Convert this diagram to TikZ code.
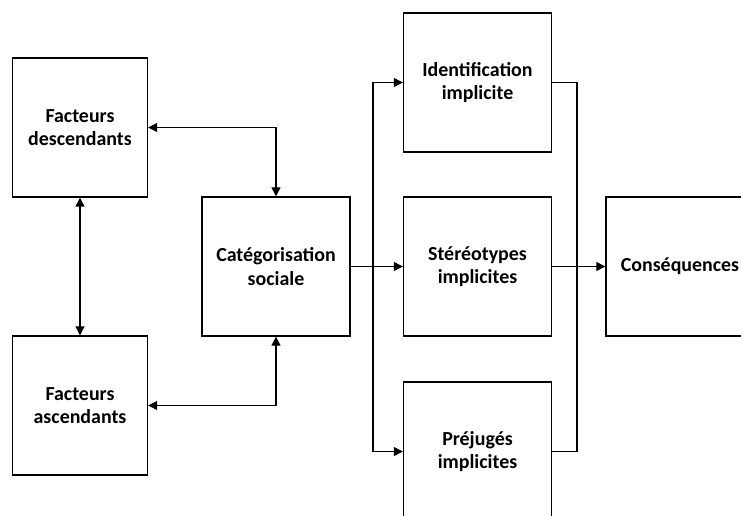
\documentclass[tikz,border=0pt]{standalone}
\usepackage{fontspec}
\setmainfont{Carlito}
\usetikzlibrary{arrows.meta}

\tikzstyle{bloc}=[shape=rectangle,draw=black,line width=1.4bp,minimum width=148bp,minimum height=139bp,align=center,font=\fontsize{20}{23.5}\selectfont\bfseries,inner sep=2bp]
\tikzstyle{fac}=[bloc,minimum width=135bp]

\begin{document}
\begin{tikzpicture}[x=1bp,y=-1bp,line width=1.2bp,>={Triangle[length=9bp,width=9bp]}]
        \clip (0,0) rectangle (741,516);
        \useasboundingbox (0,0) rectangle (741,516);
        % facteurs
        \node[fac] (fd) at (80,127.5) {Facteurs\\descendants};
        \node[fac] (fa) at (80,405.5) {Facteurs\\ascendants};
        % categorisation
        \node[bloc] (cs) at (276,266.5) {Catégorisation\\sociale};
        % implicite
        \node[bloc] (id) at (477.5,82.5) {Identification\\implicite};
        \node[bloc] (st) at (477.5,266.5) {Stéréotypes\\implicites};
        \node[bloc] (pr) at (477.5,451.5) {Préjugés\\implicites};
        \node[bloc] (co) at (680,266.5) {Conséquences};
        \coordinate (split) at (373,266.5);
        \coordinate (merge) at (577,266.5);
        % liens
        \draw [<->] (fd) -- (fa);
        \draw [<->] (fd.east) -| (cs.north);
        \draw [<->] (fa.east) -| (cs.south);
        \draw [->] (cs) -- (st);
        \draw [->] (split) |- (id.west);
        \draw [->] (split) |- (pr.west);
        \draw (id.east) -| (merge);
        \draw (pr.east) -| (merge);
        \draw [->] (st) -- (co);
    \end{tikzpicture}
\end{document}
